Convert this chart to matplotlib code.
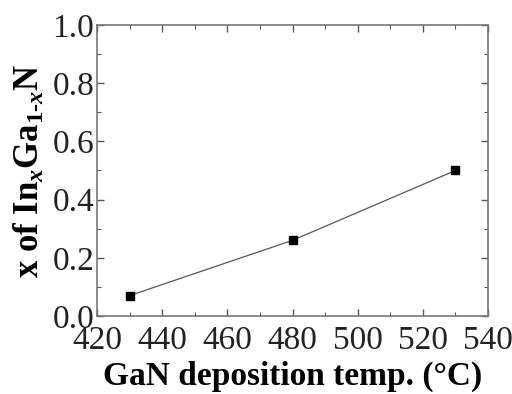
import matplotlib
matplotlib.use("Agg")
import matplotlib.pyplot as plt
from matplotlib.ticker import MultipleLocator

temps = [430, 480, 530]
x_frac = [0.07, 0.26, 0.50]

plt.rcParams['font.family'] = ['Liberation Serif', 'DejaVu Serif']
plt.rcParams['mathtext.fontset'] = 'custom'
plt.rcParams['mathtext.rm'] = 'Liberation Serif:bold'
plt.rcParams['mathtext.it'] = 'Liberation Serif:italic:bold'
plt.rcParams['mathtext.bf'] = 'Liberation Serif:bold'

fig = plt.figure(figsize=(5.12, 3.94), dpi=100)
ax = fig.add_axes([97/512, 1-316/394, (488-97)/512, (316-25)/394])

ax.plot(temps, x_frac, color='#555555', lw=0.9, marker='s', ms=6,
        mfc='black', mec='black', zorder=3)

ax.set_xlim(420, 540)
ax.set_ylim(0.0, 1.0)
ax.xaxis.set_major_locator(MultipleLocator(20))
ax.xaxis.set_minor_locator(MultipleLocator(10))
ax.yaxis.set_major_locator(MultipleLocator(0.2))
ax.yaxis.set_minor_locator(MultipleLocator(0.1))
ax.yaxis.set_major_formatter(matplotlib.ticker.FormatStrFormatter('%.1f'))

for s in ax.spines.values():
    s.set_color('#777777')
    s.set_linewidth(1.2)
ax.tick_params(which='both', direction='in', top=True, right=True, color='#555555')
ax.tick_params(which='major', length=5, width=1.0, labelsize=24, pad=2, labelcolor='#222222')
ax.tick_params(axis='x', which='major', pad=7)
ax.tick_params(which='minor', length=3, width=0.8)

ax.set_xlabel('GaN deposition temp. (°C)', fontsize=24, fontweight='bold', labelpad=3)
ax.set_ylabel(r'x of In$_{x}$Ga$_{\mathrm{1\text{-}}x}$N', fontsize=25, fontweight='bold', labelpad=4)

fig.savefig('out.png', dpi=100)
